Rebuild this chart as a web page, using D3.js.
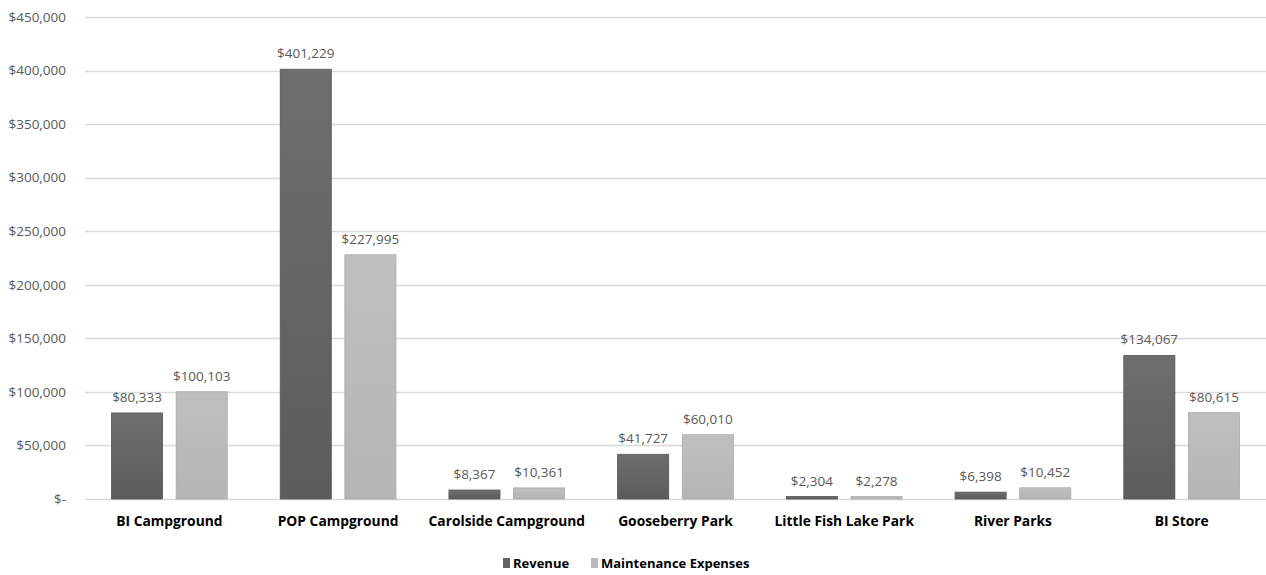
<!DOCTYPE html>
<html><head><meta charset="utf-8">
<script src="https://cdn.jsdelivr.net/npm/d3@7"></script>
<style>body{margin:0;background:#fff;}svg{display:block;}</style>
</head><body>
<svg id="c" width="1266" height="575"></svg>
<script>
const categories = ["BI Campground","POP Campground","Carolside Campground","Gooseberry Park","Little Fish Lake Park","River Parks","BI Store"];
const seriesNames = ["Revenue","Maintenance Expenses"];
const revenue = [80333,401229,8367,41727,2304,6398,134067];
const maintenance = [100103,227995,10361,60010,2278,10452,80615];
const yTicks = [0,50000,100000,150000,200000,250000,300000,350000,400000,450000];

const svg = d3.select("#c");
const W = 1266, H = 575;
const m = {left:85, right:0, top:17, bottom:76};
const x = d3.scaleBand().domain(categories).range([m.left, W - m.right]).paddingInner(0).paddingOuter(0);
const x1 = d3.scaleBand().domain(seriesNames).range([0, x.bandwidth()]).paddingInner(0.21).paddingOuter(0.41);
const y = d3.scaleLinear().domain([0,450000]).range([H - m.bottom, m.top]);
const fmt = v => v === 0 ? "$-" : "$" + d3.format(",")(v);
const font = "'Open Sans', 'Noto Sans', sans-serif";

const defs = svg.append("defs");
const g1 = defs.append("linearGradient").attr("id","gRev").attr("x1",0).attr("y1",0).attr("x2",0).attr("y2",1);
g1.append("stop").attr("offset","0%").attr("stop-color","#6e6e6e");
g1.append("stop").attr("offset","100%").attr("stop-color","#5c5c5c");
const g2 = defs.append("linearGradient").attr("id","gMnt").attr("x1",0).attr("y1",0).attr("x2",0).attr("y2",1);
g2.append("stop").attr("offset","0%").attr("stop-color","#bfbfbf");
g2.append("stop").attr("offset","100%").attr("stop-color","#b5b5b5");
const fills = {"Revenue":"url(#gRev)","Maintenance Expenses":"url(#gMnt)"};
const strokes = {"Revenue":"#555","Maintenance Expenses":"#aaa"};
const swatch = {"Revenue":"#626262","Maintenance Expenses":"#bababa"};

const yAxis = d3.axisLeft(y).tickValues(yTicks).tickFormat(fmt).tickSize(0).tickPadding(19);
const ga = svg.append("g").attr("transform",`translate(${m.left},0)`).call(yAxis);
ga.select(".domain").remove();
ga.selectAll("text").attr("font-family",font).attr("font-size",13.5).attr("fill","#595959");
svg.append("g").selectAll("line").data(yTicks).join("line")
  .attr("x1",m.left).attr("x2",W).attr("y1",d=>Math.round(y(d))+0.5).attr("y2",d=>Math.round(y(d))+0.5)
  .attr("stroke","#d9d9d9").attr("stroke-width",1.5);

const data = categories.map((c,i)=>({cat:c, vals:[{s:"Revenue",v:revenue[i]},{s:"Maintenance Expenses",v:maintenance[i]}]}));
const grp = svg.append("g").selectAll("g").data(data).join("g").attr("transform",d=>`translate(${x(d.cat)},0)`);
grp.selectAll("rect").data(d=>d.vals).join("rect")
  .attr("x",d=>x1(d.s)).attr("width",x1.bandwidth())
  .attr("y",d=>y(d.v)).attr("height",d=>y(0)-y(d.v))
  .attr("fill",d=>fills[d.s]).attr("stroke",d=>strokes[d.s]).attr("stroke-width",0.8);
grp.selectAll("text").data(d=>d.vals).join("text")
  .attr("x",d=>x1(d.s)+x1.bandwidth()/2).attr("y",d=>y(d.v)-11)
  .attr("text-anchor","middle").attr("font-family",font).attr("font-size",13.5).attr("fill","#595959")
  .text(d=>fmt(d.v));

const xAxis = d3.axisBottom(x).tickSize(0).tickPadding(17);
const gx = svg.append("g").attr("transform",`translate(0,${y(0)})`).call(xAxis);
gx.select(".domain").remove();
gx.selectAll("text").attr("font-family",font).attr("font-size",13.8).attr("font-weight","bold").attr("fill","#000");

const leg = svg.append("g");
const legX = [503, 591];
seriesNames.forEach((s,i)=>{
  leg.append("rect").attr("x",legX[i]).attr("y",558).attr("width",7).attr("height",10).attr("fill",swatch[s]);
  leg.append("text").attr("x",legX[i]+10).attr("y",568).attr("font-family",font).attr("font-size",13)
    .attr("font-weight","bold").attr("fill","#000").text(s);
});
</script>
</body></html>
